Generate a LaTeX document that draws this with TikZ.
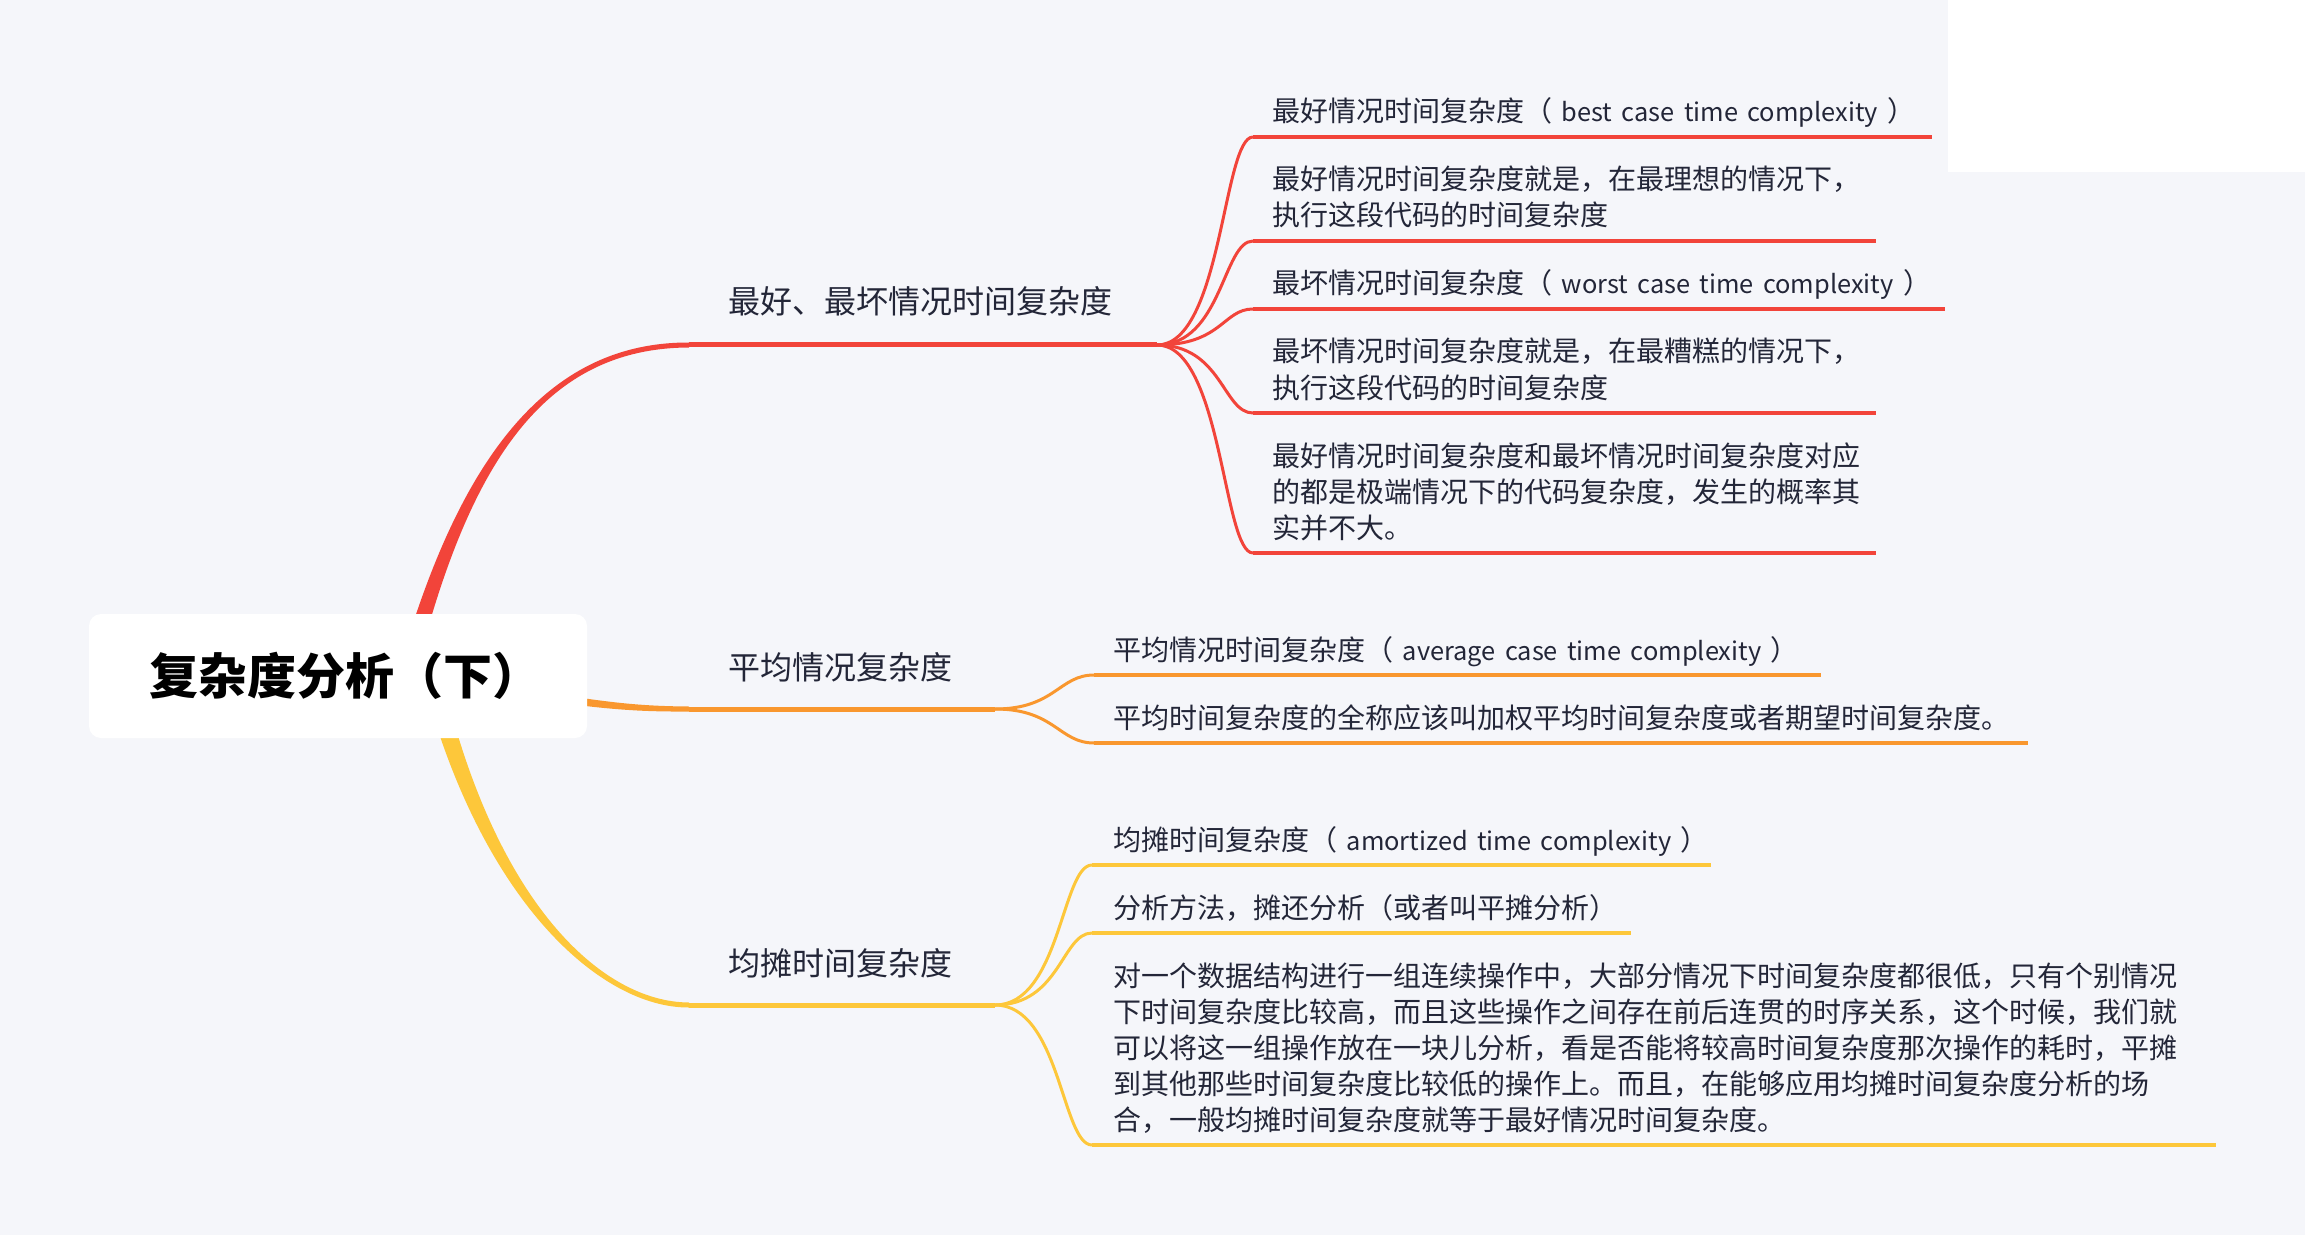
\documentclass[tikz,border=0pt]{standalone}
\usepackage{fontspec}
\setmainfont{Noto Sans CJK SC}
\usetikzlibrary{calc}

\definecolor{bgcol}{HTML}{F5F6FA}
\definecolor{redbr}{HTML}{F2443A}
\definecolor{orangebr}{HTML}{F9972E}
\definecolor{yellowbr}{HTML}{FDC73A}
\definecolor{txtcol}{HTML}{232638}

\newcommand{\latinpart}[1]{{\fontsize{12.7pt}{18pt}\selectfont~#1~}}

\tikzset{
  rootbox/.style={fill=white, rounded corners=6pt, minimum width=249pt, minimum height=62pt,
    inner sep=0pt, text=black, font=\fontsize{24.5pt}{28pt}\selectfont\bfseries},
  branch/.style={anchor=base west, inner sep=0pt, text=txtcol, font=\fontsize{16pt}{20pt}\selectfont},
  leaf/.style={anchor=base west, inner sep=0pt, text=txtcol, align=left, text width=560pt,
    font=\fontsize{14pt}{18pt}\selectfont},
  twig/.style={line width=1.5pt},
  rule/.style={line width=2pt},
  stem/.style={line width=2.5pt},
}

\begin{document}
\begin{tikzpicture}[x=0.5pt, y=-0.5pt]

\fill [bgcol] (0,0) rectangle (2305,1235);
\useasboundingbox (0,0) rectangle (2305,1235);
\fill [white] (1948,0) rectangle (2305,172);

% main branches
\coordinate (rootc) at (338,676);

\coordinate (r0) at (406,676);
\coordinate (rc1) at (461,470);
\coordinate (rc2) at (540,345);
\coordinate (b1a) at (689,345);
\coordinate (b1f) at (1157,345);

\coordinate (o0) at (470,686);
\coordinate (oc1) at (590,703);
\coordinate (oc2) at (620,709);
\coordinate (b2a) at (689,709);
\coordinate (b2f) at (995,709);

\coordinate (y0) at (432,676);
\coordinate (yc1) at (487,900);
\coordinate (yc2) at (600,1005);
\coordinate (b3a) at (689,1005);
\coordinate (b3f) at (995,1005);

\fill [redbr] ($(r0)+(-9,0)$) .. controls ($(rc1)+(-6,0)$) and ($(rc2)+(0,-3)$) .. ($(b1a)+(0,-2.5)$)
  -- ($(b1a)+(0,2.5)$) .. controls ($(rc2)+(0,3)$) and ($(rc1)+(6,0)$) .. ($(r0)+(9,0)$) -- cycle;
\fill [orangebr] ($(o0)+(0,-5)$) .. controls ($(oc1)+(0,-4)$) and ($(oc2)+(0,-3)$) .. ($(b2a)+(0,-2.5)$)
  -- ($(b2a)+(0,2.5)$) .. controls ($(oc2)+(0,3)$) and ($(oc1)+(0,4)$) .. ($(o0)+(0,5)$) -- cycle;
\fill [yellowbr] ($(y0)+(-10,0)$) .. controls ($(yc1)+(-7,0)$) and ($(yc2)+(0,3)$) .. ($(b3a)+(0,2.5)$)
  -- ($(b3a)+(0,-2.5)$) .. controls ($(yc2)+(0,-3)$) and ($(yc1)+(7,0)$) .. ($(y0)+(10,0)$) -- cycle;

\draw [redbr, stem] (b1a) -- (b1f);
\draw [orangebr, stem] (b2a) -- (b2f);
\draw [yellowbr, stem] (b3a) -- (b3f);

\node [rootbox] (root) at (rootc) {\hspace{7pt}复杂度分析（下）};

\node [branch] (b1) at (728,314) {最好、最坏情况时间复杂度};
\node [branch] (b2) at (728,679) {平均情况复杂度};
\node [branch] (b3) at (728,975) {均摊时间复杂度};

% red leaves
\coordinate (r1a) at (1253,137); \coordinate (r1b) at (1932,137);
\coordinate (r2a) at (1253,241); \coordinate (r2b) at (1876,241);
\coordinate (r3a) at (1253,309); \coordinate (r3b) at (1945,309);
\coordinate (r4a) at (1253,413); \coordinate (r4b) at (1876,413);
\coordinate (r5a) at (1253,553); \coordinate (r5b) at (1876,553);

\foreach \i in {1,...,5} {
  \draw [redbr, twig] (b1f) .. controls +(65,0) and +(-30,0) .. (r\i a);
  \draw [redbr, rule] (r\i a) -- (r\i b);
}

\node [leaf] (r1) at (1272,122) {最好情况时间复杂度（\latinpart{best case time complexity}）};
\node [leaf] (r2) at (1272,190) {最好情况时间复杂度就是，在最理想的情况下，\\执行这段代码的时间复杂度};
\node [leaf] (r3) at (1272,294) {最坏情况时间复杂度（\latinpart{worst case time complexity}）};
\node [leaf] (r4) at (1272,362) {最坏情况时间复杂度就是，在最糟糕的情况下，\\执行这段代码的时间复杂度};
\node [leaf] (r5) at (1272,466) {最好情况时间复杂度和最坏情况时间复杂度对应\\的都是极端情况下的代码复杂度，发生的概率其\\实并不大。};

% orange leaves
\coordinate (o1a) at (1094,675); \coordinate (o1b) at (1821,675);
\coordinate (o2a) at (1094,743); \coordinate (o2b) at (2028,743);

\foreach \i in {1,2} {
  \draw [orangebr, twig] (b2f) .. controls +(60,0) and +(-35,0) .. (o\i a);
  \draw [orangebr, rule] (o\i a) -- (o\i b);
}

\node [leaf] (o1) at (1113,660) {平均情况时间复杂度（\latinpart{average case time complexity}）};
\node [leaf] (o2) at (1113,728) {平均时间复杂度的全称应该叫加权平均时间复杂度或者期望时间复杂度。};

% yellow leaves
\coordinate (y1a) at (1092,865); \coordinate (y1b) at (1711,865);
\coordinate (y2a) at (1092,933); \coordinate (y2b) at (1631,933);
\coordinate (y3a) at (1092,1145); \coordinate (y3b) at (2216,1145);

\foreach \i in {1,2,3} {
  \draw [yellowbr, twig] (b3f) .. controls +(65,0) and +(-30,0) .. (y\i a);
  \draw [yellowbr, rule] (y\i a) -- (y\i b);
}

\node [leaf] (y1) at (1113,850) {均摊时间复杂度（\latinpart{amortized time complexity}）};
\node [leaf] (y2) at (1113,918) {分析方法，摊还分析（或者叫平摊分析）};
\node [leaf] (y3) at (1113,986) {对一个数据结构进行一组连续操作中，大部分情况下时间复杂度都很低，只有个别情况\\下时间复杂度比较高，而且这些操作之间存在前后连贯的时序关系，这个时候，我们就\\可以将这一组操作放在一块儿分析，看是否能将较高时间复杂度那次操作的耗时，平摊\\到其他那些时间复杂度比较低的操作上。而且，在能够应用均摊时间复杂度分析的场\\合，一般均摊时间复杂度就等于最好情况时间复杂度。};

\end{tikzpicture}
\end{document}
